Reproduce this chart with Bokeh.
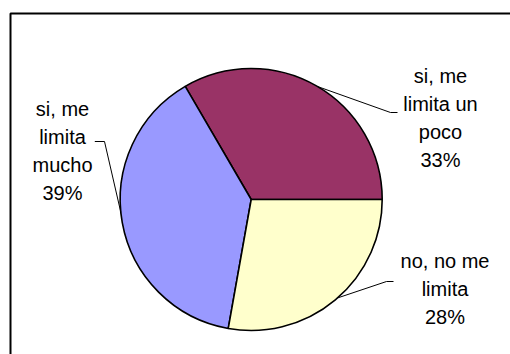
import math
from bokeh.plotting import figure
from bokeh.models import Range1d
from bokeh.core.properties import value
from bokeh.embed import file_html
from bokeh.resources import INLINE

# ---- data ----
categories = ["si, me limita un poco", "si, me limita mucho", "no, no me limita"]
label_lines = [["si, me", "limita un", "poco"], ["si, me", "limita", "mucho"], ["no, no me", "limita"]]
values = [33.4, 38.8, 27.8]
colors = ["#993366", "#9999FF", "#FFFFCC"]

# ---- layout (pixels; figure is 510 x 354, y measured upward) ----
W, H = 510, 354
cx, cy, r = 250.7, 155.0, 131.0
label_anchor = [(440.0, 279.0), (62.0, 246.0), (444.5, 94.0)]  # x centre, first baseline
line_step = 28.0
leader_angle = [59.6, 185.6, -48.7]
leader_elbow = [[(390.0, 242.0), (397.0, 242.0)],
                [(104.0, 213.0), (94.3, 213.0)],
                [(386.0, 73.0), (393.0, 73.0)]]

p = figure(width=W, height=H, output_backend="svg", toolbar_location=None,
           x_range=Range1d(0, W), y_range=Range1d(0, H),
           x_axis_location=None, y_axis_location=None,
           min_border=0, outline_line_color=None)
p.grid.visible = False
p.background_fill_color = "white"
p.border_fill_color = "white"

total = sum(values)
starts, ends = [], []
acc = 0.0
for v in values:
    starts.append(acc / total * 2 * math.pi)
    acc += v
    ends.append(acc / total * 2 * math.pi)

p.wedge(x=[cx] * 3, y=[cy] * 3, radius=r, start_angle=starts, end_angle=ends,
        fill_color=colors, line_color="black", line_width=1.6)

# leader lines
for ang, elbow in zip(leader_angle, leader_elbow):
    a = math.radians(ang)
    ex, ey = cx + r * math.cos(a), cy + r * math.sin(a)
    xs = [ex] + [pt[0] for pt in elbow]
    ys = [ey] + [pt[1] for pt in elbow]
    p.line(xs, ys, line_color="black", line_width=1)

# labels
tx, ty, tt = [], [], []
for lines, v, (ax, ay) in zip(label_lines, values, label_anchor):
    full = lines + [f"{round(v / total * 100)}%"]
    for i, s in enumerate(full):
        tx.append(ax)
        ty.append(ay - i * line_step)
        tt.append(s)
p.text(x=tx, y=ty, text=tt, text_align="center", text_baseline="alphabetic",
       text_font=value("Liberation Sans"), text_font_size="20px", text_color="black")

# chart area border (extends beyond the visible page on right/bottom)
p.line([10, 10, 700], [-200, 341, 341], line_color="black", line_width=2)

open("out.html", "w").write(file_html(p, INLINE))
